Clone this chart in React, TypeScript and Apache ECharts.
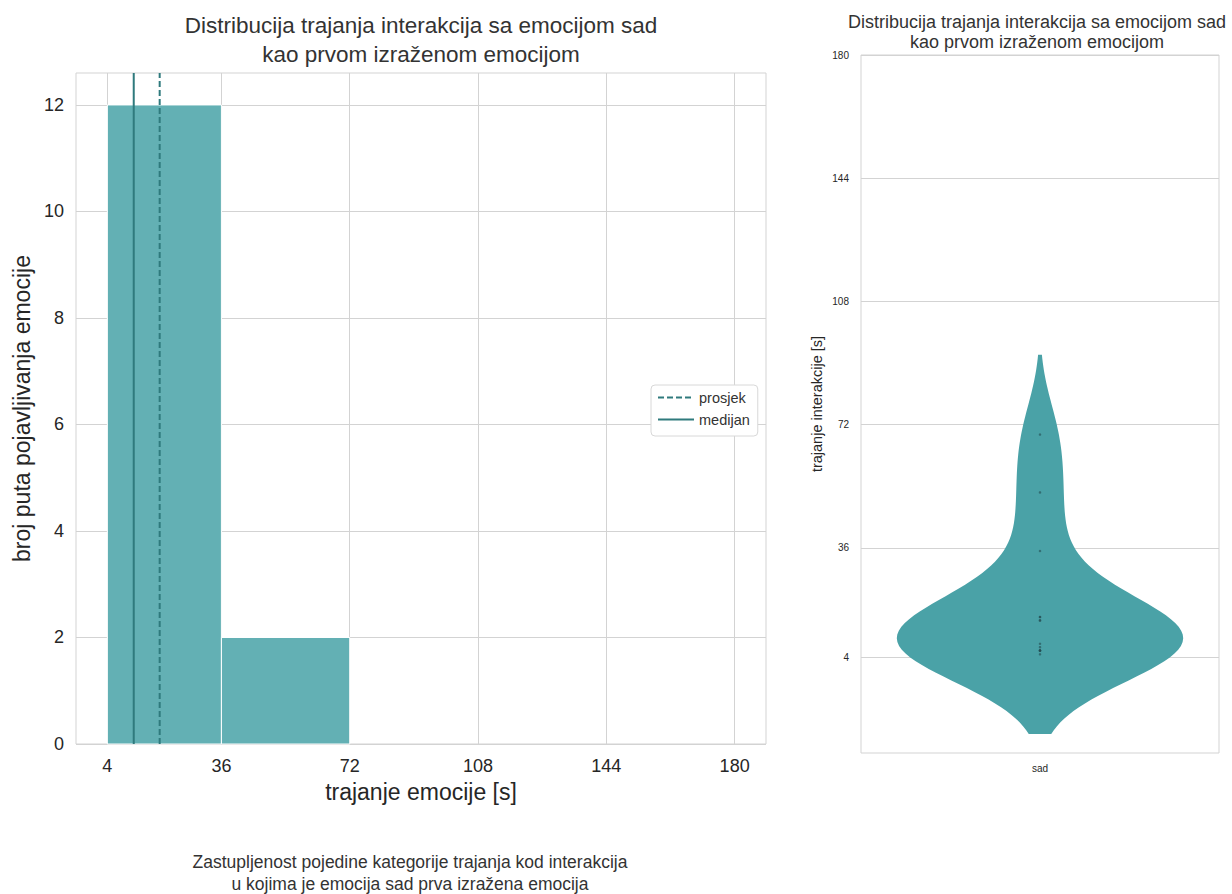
import React, { useEffect, useRef } from "react";
import * as echarts from "echarts";

// ---- data ----
const durations = [4.9, 6.0, 6.0, 6.0, 6.0, 7.0, 8.0, 14.8, 14.8, 15.8, 15.8, 35.1, 52.2, 69.1];
const binEdges = [4, 36, 72, 108, 144, 180];
const histXTicks = [4, 36, 72, 108, 144, 180];
const histYTicks = [0, 2, 4, 6, 8, 10, 12];
const violinYTicks = [4, 36, 72, 108, 144, 180];
const violinCategories = ["sad"];
const legendNames = ["prosjek", "medijan"];

const leftTitle = "Distribucija trajanja interakcija sa emocijom sad\nkao prvom izraženom emocijom";
const rightTitle = "Distribucija trajanja interakcija sa emocijom sad\nkao prvom izraženom emocijom";
const caption = "Zastupljenost pojedine kategorije trajanja kod interakcija\nu kojima je emocija sad prva izražena emocija";
const histXName = "trajanje emocije [s]";
const histYName = "broj puta pojavljivanja emocije";
const violinYName = "trajanje interakcije [s]";

const FONT = "'Liberation Sans', Arial, sans-serif";
const TEXT = "#262626";
const GRIDC = "#d3d3d3";
const BAR = "#63b0b4";
const VIOLIN = "#4aa2a7";
const LINEC = "#2f7a7d";

// ---- derived statistics ----
const n = durations.length;
const mean = durations.reduce((a, b) => a + b, 0) / n;
const sorted = [...durations].sort((a, b) => a - b);
const median = n % 2 ? sorted[(n - 1) / 2] : (sorted[n / 2 - 1] + sorted[n / 2]) / 2;
const counts = binEdges.slice(0, -1).map((lo, i) => {
  const hi = binEdges[i + 1];
  const last = i === binEdges.length - 2;
  return durations.filter((v) => v >= lo && (last ? v <= hi : v < hi)).length;
});
const histData = binEdges.slice(0, -1).map((lo, i) => [lo, binEdges[i + 1], counts[i]]);
const binRange = binEdges[binEdges.length - 1] - binEdges[0];
const histXMin = binEdges[0] - 0.05 * binRange;
const histXMax = binEdges[binEdges.length - 1] + 0.05 * binRange;
const histYMax = Math.max(...counts) * 1.05;

// gaussian KDE (Scott), cut = 2, as a violin plot does
const sd = Math.sqrt(durations.reduce((a, v) => a + (v - mean) ** 2, 0) / (n - 1));
const bw = sd * Math.pow(n, -0.2);
const supLo = sorted[0] - 2 * bw;
const supHi = sorted[n - 1] + 2 * bw;
const GRIDN = 100;
const kdeY: number[] = [];
const kdeD: number[] = [];
for (let i = 0; i < GRIDN; i++) {
  const y = supLo + ((supHi - supLo) * i) / (GRIDN - 1);
  kdeY.push(y);
  kdeD.push(durations.reduce((a, v) => a + Math.exp(-0.5 * ((y - v) / bw) ** 2), 0));
}
const maxD = Math.max(...kdeD);
const violinYMin = supLo - 0.05 * (supHi - supLo);
const violinYMax = violinYTicks[violinYTicks.length - 1];

export default function App() {
  const ref = useRef<HTMLDivElement>(null);
  useEffect(() => {
    document.body.style.margin = "0";
    const chart = echarts.init(ref.current!, undefined, { renderer: "svg" });
    const option: any = {
      animation: false,
      backgroundColor: "#ffffff",
      textStyle: { fontFamily: FONT },
      title: [
        {
          text: leftTitle, left: 421, top: 11, textAlign: "center", padding: 0,
          textStyle: { fontSize: 22.5, lineHeight: 29, fontWeight: "normal", color: "#333", fontFamily: FONT },
        },
        {
          text: rightTitle, left: 1037, top: 12, textAlign: "center", padding: 0,
          textStyle: { fontSize: 18, lineHeight: 20, fontWeight: "normal", color: "#333", fontFamily: FONT },
        },
        {
          text: caption, left: 410, top: 851, textAlign: "center", padding: 0,
          textStyle: { fontSize: 17.5, lineHeight: 22, fontWeight: "normal", color: "#333", fontFamily: FONT },
        },
      ],
      legend: {
        data: legendNames,
        orient: "vertical",
        left: 651,
        top: 385,
        padding: [5, 8, 9, 6],
        itemWidth: 36,
        itemHeight: 14,
        itemGap: 7,
        itemStyle: { color: "transparent", borderColor: "transparent", borderWidth: 0 },
        backgroundColor: "#ffffff",
        borderColor: "#d8d8d8",
        borderWidth: 1,
        borderRadius: 4,
        textStyle: { fontSize: 14.5, color: "#333", fontFamily: FONT },
      },
      grid: [
        { left: 76, right: 466, top: 73, bottom: 150, show: true, borderColor: GRIDC, borderWidth: 1 },
        { left: 861, right: 13, top: 55, bottom: 141, show: true, borderColor: GRIDC, borderWidth: 1 },
      ],
      xAxis: [
        {
          type: "value", gridIndex: 0, min: histXMin, max: histXMax,
          name: histXName, nameLocation: "middle", nameGap: 36,
          nameTextStyle: { fontSize: 23, color: TEXT, fontFamily: FONT },
          axisLine: { show: false },
          axisTick: { show: false, customValues: histXTicks },
          axisLabel: { customValues: histXTicks, fontSize: 18, color: TEXT, margin: 13, fontFamily: FONT },
          splitLine: { show: true, lineStyle: { color: GRIDC, width: 1 } },
        },
        {
          type: "category", gridIndex: 1, data: violinCategories,
          axisLine: { show: false }, axisTick: { show: false },
          axisLabel: { fontSize: 10, color: TEXT, margin: 10, fontFamily: FONT },
          splitLine: { show: false },
        },
      ],
      yAxis: [
        {
          type: "value", gridIndex: 0, min: 0, max: histYMax,
          name: histYName, nameLocation: "middle", nameGap: 40,
          nameTextStyle: { fontSize: 23, color: TEXT, fontFamily: FONT },
          axisLine: { show: false },
          axisTick: { show: false, customValues: histYTicks },
          axisLabel: { customValues: histYTicks, fontSize: 18, color: TEXT, margin: 12, fontFamily: FONT },
          splitLine: { show: true, lineStyle: { color: GRIDC, width: 1 } },
        },
        {
          type: "value", gridIndex: 1, min: violinYMin, max: violinYMax,
          name: violinYName, nameLocation: "middle", nameGap: 37,
          nameTextStyle: { fontSize: 14.5, color: TEXT, fontFamily: FONT },
          axisLine: { show: false },
          axisTick: { show: false, customValues: violinYTicks },
          axisLabel: { customValues: violinYTicks, fontSize: 10, color: TEXT, margin: 12, fontFamily: FONT },
          splitLine: { show: true, lineStyle: { color: GRIDC, width: 1 } },
        },
      ],
      series: [
        {
          type: "custom",
          xAxisIndex: 0, yAxisIndex: 0,
          encode: { x: [0, 1], y: 2 },
          data: histData,
          z: 2,
          renderItem: (params: any, api: any) => {
            const x0 = api.value(0), x1 = api.value(1), c = api.value(2);
            if (!c) return { type: "group", children: [] };
            const tl = api.coord([x0, c]);
            const br = api.coord([x1, 0]);
            return {
              type: "rect",
              shape: { x: tl[0], y: tl[1], width: br[0] - tl[0], height: br[1] - tl[1] },
              style: { fill: BAR, stroke: "#ffffff", lineWidth: 1 },
            };
          },
        },
        {
          name: legendNames[0], type: "line", xAxisIndex: 0, yAxisIndex: 0,
          data: [[mean, 0], [mean, histYMax]], symbol: "none", z: 5,
          color: LINEC,
          lineStyle: { color: LINEC, width: 2, type: [6, 3] },
        },
        {
          name: legendNames[1], type: "line", xAxisIndex: 0, yAxisIndex: 0,
          data: [[median, 0], [median, histYMax]], symbol: "none", z: 5,
          color: LINEC,
          lineStyle: { color: LINEC, width: 2, type: "solid" },
        },
        {
          type: "custom",
          xAxisIndex: 1, yAxisIndex: 1,
          encode: { x: 0, y: 1 },
          data: [[0, 0]],
          z: 2,
          renderItem: (params: any, api: any) => {
            const cat = api.value(0);
            const cx = api.coord([cat, 0])[0];
            const half = api.size([1, 0])[0] * 0.4;
            const right: number[][] = [];
            const left: number[][] = [];
            for (let i = 0; i < kdeY.length; i++) {
              const py = api.coord([cat, kdeY[i]])[1];
              const w = (kdeD[i] / maxD) * half;
              right.push([cx + w, py]);
              left.push([cx - w, py]);
            }
            return {
              type: "polygon",
              shape: { points: right.concat(left.reverse()) },
              style: { fill: VIOLIN },
            };
          },
        },
        {
          type: "scatter",
          xAxisIndex: 1, yAxisIndex: 1,
          data: durations.map((v) => [0, v]),
          symbolSize: 2.5,
          z: 4,
          itemStyle: { color: "rgba(35,75,80,0.75)" },
        },
      ],
    };
    chart.setOption(option);
    return () => chart.dispose();
  }, []);
  return <div ref={ref} style={{ width: 1232, height: 894 }} />;
}
